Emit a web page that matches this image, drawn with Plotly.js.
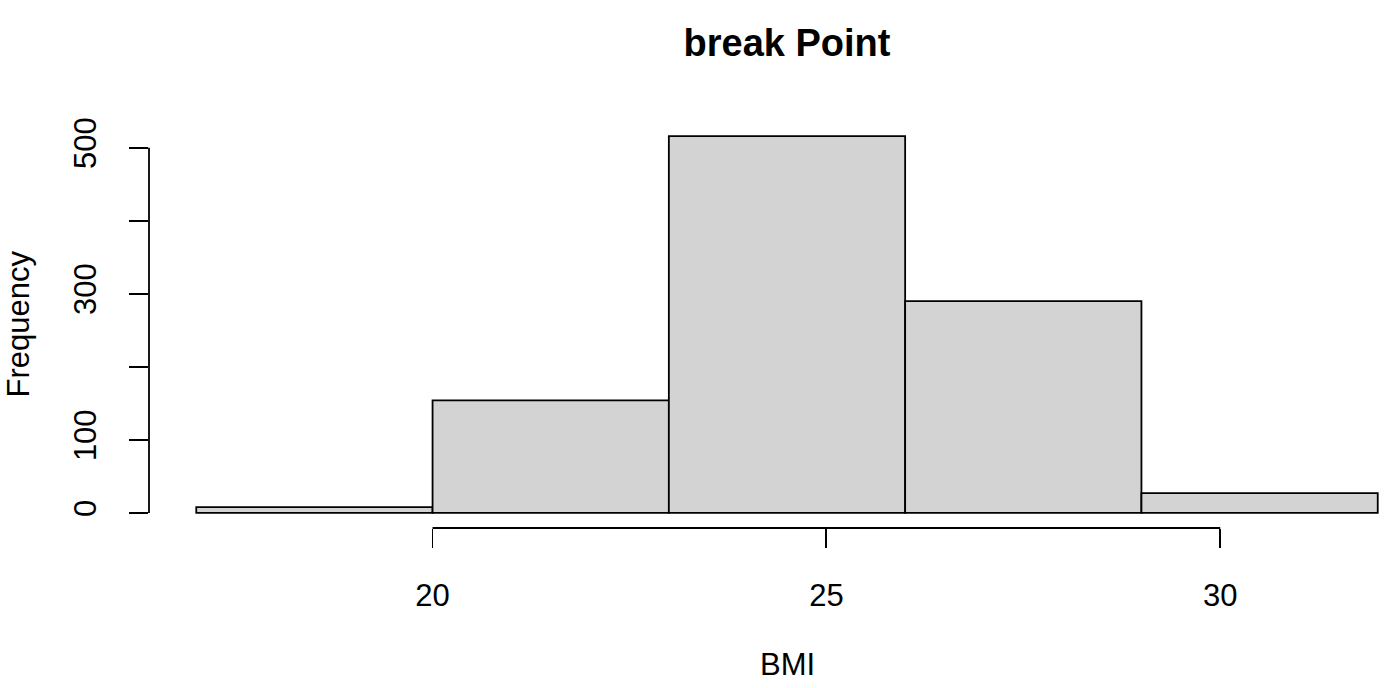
<!DOCTYPE html>
<html>
<head>
<meta charset="utf-8">
<script src="https://cdn.plot.ly/plotly-3.0.1.min.js"></script>
<style>
  html, body { margin: 0; padding: 0; background: #ffffff; }
  #chart { width: 1394px; height: 688px; }
</style>
</head>
<body>
<div id="chart"></div>
<script>
// Histogram of BMI ("break Point")
const breaks = [17, 20, 23, 26, 29, 32];
const counts = [8, 154, 516, 290, 27];
const xTickVals = [20, 25, 30];
const xTickText = ['20', '25', '30'];
const yTickVals = [0, 100, 200, 300, 400, 500];
const yTickText = ['0', '100', '', '300', '', '500'];
const chartTitle = 'break Point';
const xLabel = 'BMI';
const yLabel = 'Frequency';

const centers = counts.map((_, i) => (breaks[i] + breaks[i + 1]) / 2);
const widths = counts.map((_, i) => breaks[i + 1] - breaks[i]);

const FONT = 'Liberation Sans, Arial, Helvetica, sans-serif';

// R-style ranges: 4% extension
const xMin = breaks[0], xMax = breaks[breaks.length - 1];
const xPad = (xMax - xMin) * 0.04;
const yMax = Math.max(...counts);
const yPad = yMax * 0.04;

const plotLeft = 149, plotWidth = 1245;
const fullWidthPx = 1276; // R plot region width (extends past window)
const pxPerUnit = fullWidthPx / ((xMax + xPad) - (xMin - xPad));
const xRange = [xMin - xPad, (xMin - xPad) + plotWidth / pxPerUnit];

const trace = {
  type: 'bar',
  x: centers,
  y: counts,
  width: widths,
  marker: { color: '#d3d3d3', line: { color: '#000000', width: 1.8 } },
  hoverinfo: 'x+y',
  showlegend: false
};

const layout = {
  width: 1394,
  height: 688,
  margin: { l: plotLeft, r: 0, t: 121, b: 160 },
  paper_bgcolor: '#ffffff',
  plot_bgcolor: '#ffffff',
  font: { family: FONT, color: '#000000', size: 31 },
  title: {
    text: chartTitle,
    font: { family: FONT, size: 38, weight: 'bold', color: '#000000' },
    xref: 'container', x: 787 / 1394, xanchor: 'center',
    yref: 'container', y: 1 - 43 / 688, yanchor: 'middle'
  },
  xaxis: {
    range: xRange,
    showgrid: false, zeroline: false, showline: false,
    tickmode: 'array', tickvals: xTickVals, ticktext: xTickText,
    ticks: 'outside', ticklen: 19, tickwidth: 1.8, tickcolor: '#000000',
    ticklabelstandoff: 21,
    tickfont: { family: FONT, size: 31, color: '#000000' },
    fixedrange: true
  },
  yaxis: {
    range: [-yPad, yMax + yPad],
    showgrid: false, zeroline: false, showline: false,
    tickmode: 'array', tickvals: yTickVals, ticktext: yTickText,
    ticks: 'outside', ticklen: 19, tickwidth: 1.8, tickcolor: '#000000',
    tickangle: -90,
    ticklabelstandoff: 21,
    tickfont: { family: FONT, size: 31, color: '#000000' },
    fixedrange: true
  },
  shapes: [
    { type: 'line', xref: 'x', yref: 'paper', x0: xTickVals[0], x1: xTickVals[xTickVals.length - 1], y0: 0, y1: 0,
      line: { color: '#000000', width: 1.8 } },
    { type: 'line', xref: 'paper', yref: 'y', x0: 0, x1: 0, y0: yTickVals[0], y1: yTickVals[yTickVals.length - 1],
      line: { color: '#000000', width: 1.8 } }
  ],
  annotations: [
    { text: xLabel, xref: 'x', x: (xMin + xMax) / 2, xanchor: 'center',
      yref: 'paper', y: (528 - 664) / 407, yanchor: 'middle',
      showarrow: false, font: { family: FONT, size: 31, color: '#000000' } },
    { text: yLabel, textangle: -90, xref: 'paper', x: (18 - plotLeft) / plotWidth, xanchor: 'center',
      yref: 'paper', y: 0.5, yanchor: 'middle',
      showarrow: false, font: { family: FONT, size: 31, color: '#000000' } }
  ]
};

Plotly.newPlot('chart', [trace], layout, { staticPlot: true, displayModeBar: false });
</script>
</body>
</html>
